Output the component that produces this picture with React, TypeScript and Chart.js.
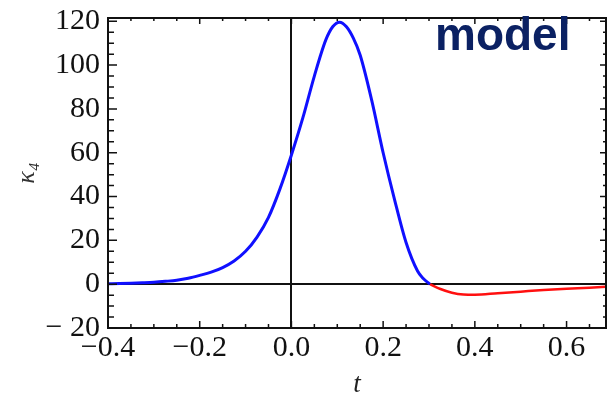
import React, { useEffect, useRef } from 'react';
import { Chart, registerables } from 'chart.js';

Chart.register(...registerables);

// Positive (blue) branch of kappa_4(t)
const tPositive = [-0.4, -0.375, -0.35, -0.325, -0.3, -0.275, -0.25, -0.225, -0.2, -0.175, -0.15, -0.125, -0.1, -0.075, -0.05, -0.025, 0, 0.025, 0.05, 0.075, 0.09, 0.105, 0.12, 0.135, 0.15, 0.175, 0.2, 0.225, 0.25, 0.275, 0.2875, 0.302];
const kappaPositive = [0.2, 0.3, 0.45, 0.65, 0.9, 1.3, 1.8, 2.7, 4.0, 5.5, 7.6, 10.6, 15.0, 21.5, 30.5, 43.5, 59, 76, 95, 111.5, 117.5, 119.6, 117.5, 112.3, 104.5, 84, 60, 38.5, 19, 6, 2.6, 0];

// Negative (red) branch
const tNegative = [0.302, 0.325, 0.35, 0.375, 0.4, 0.45, 0.5, 0.55, 0.6, 0.65, 0.69];
const kappaNegative = [0, -2.2, -3.9, -4.7, -4.8, -4.1, -3.4, -2.7, -2.1, -1.6, -1.1];

const xMajorTicks = [-0.4, -0.2, 0, 0.2, 0.4, 0.6];
const yMajorTicks = [-20, 0, 20, 40, 60, 80, 100, 120];

const X_MIN = -0.4;
const X_MAX = 0.686;
const Y_MIN = -20;
const Y_MAX = 121.5;

const isMajor = (v: number, majors: number[]) => majors.some((m) => Math.abs(m - v) < 1e-6);
const fmtX = (v: number) => {
  const s = Math.abs(v).toFixed(1);
  return v < -1e-9 ? '\u2212' + s : s;
};
const fmtY = (v: number) => {
  const s = Math.abs(Math.round(v)).toString();
  return v < -1e-9 ? '\u2212 ' + s : s;
};

const framePlugin = {
  id: 'frameTicks',
  afterDraw(chart: any) {
    const { ctx, chartArea } = chart;
    const { left, right, top, bottom } = chartArea;
    const xs = chart.scales.x;
    const ys = chart.scales.y;
    ctx.save();
    ctx.strokeStyle = '#111';
    ctx.lineWidth = 2;
    ctx.strokeRect(left, top, right - left, bottom - top);
    ctx.lineWidth = 1.5;
    ctx.beginPath();
    xs.ticks.forEach((t: any) => {
      const px = xs.getPixelForValue(t.value);
      if (px < left - 0.5 || px > right + 0.5) return;
      const major = isMajor(t.value, xMajorTicks);
      const lb = major ? 7 : 4;
      const lt = major ? 6 : 3;
      ctx.moveTo(px, bottom);
      ctx.lineTo(px, bottom - lb);
      ctx.moveTo(px, top);
      ctx.lineTo(px, top + lt);
    });
    ys.ticks.forEach((t: any) => {
      const py = ys.getPixelForValue(t.value);
      if (py < top - 0.5 || py > bottom + 0.5) return;
      const major = isMajor(t.value, yMajorTicks);
      const ll = major ? 9 : 6;
      const lr = major ? 6 : 3;
      ctx.moveTo(left, py);
      ctx.lineTo(left + ll, py);
      ctx.moveTo(right, py);
      ctx.lineTo(right - lr, py);
    });
    ctx.stroke();
    // "model" label
    ctx.fillStyle = '#0b2163';
    ctx.font = 'bold 46px "Liberation Sans", Arial, sans-serif';
    ctx.textAlign = 'left';
    ctx.textBaseline = 'alphabetic';
    ctx.fillText('model', 435, 50);
    ctx.restore();
  },
};

export default function App() {
  const canvasRef = useRef<HTMLCanvasElement | null>(null);

  useEffect(() => {
    document.body.style.margin = '0';
    const canvas = canvasRef.current;
    if (!canvas) return;
    const chart = new Chart(canvas, {
      type: 'line',
      data: {
        datasets: [
          {
            label: 'positive',
            data: tPositive.map((t, i) => ({ x: t, y: kappaPositive[i] })),
            borderColor: '#1010ff',
            borderWidth: 3,
            pointRadius: 0,
            cubicInterpolationMode: 'monotone',
            fill: false,
          },
          {
            label: 'negative',
            data: tNegative.map((t, i) => ({ x: t, y: kappaNegative[i] })),
            borderColor: '#ff1010',
            borderWidth: 2.5,
            pointRadius: 0,
            cubicInterpolationMode: 'monotone',
            fill: false,
          },
        ],
      },
      options: {
        animation: false,
        responsive: false,
        devicePixelRatio: 1,
        layout: { padding: { top: 18, right: 3, left: 0, bottom: 0 } },
        plugins: { legend: { display: false }, tooltip: { enabled: false } },
        scales: {
          x: {
            type: 'linear',
            min: X_MIN,
            max: X_MAX,
            afterFit: (s: any) => {
              s.height = 75;
              s.paddingLeft = 0;
              s.paddingRight = 0;
            },
            border: { display: false },
            grid: {
              drawTicks: false,
              lineWidth: 2,
              color: (c: any) => (c.tick && Math.abs(c.tick.value) < 1e-9 ? '#111' : 'rgba(0,0,0,0)'),
            },
            ticks: {
              stepSize: 0.05,
              includeBounds: false,
              autoSkip: false,
              maxRotation: 0,
              minRotation: 0,
              padding: 2,
              color: '#111',
              font: { family: '"Liberation Serif", "Times New Roman", serif', size: 30 },
              callback: (v: any) => (isMajor(Number(v), xMajorTicks) ? fmtX(Number(v)) : ''),
            },
            title: {
              display: true,
              text: 't',
              color: '#222',
              padding: { top: 0, bottom: 2 },
              font: { family: '"Liberation Serif", "Times New Roman", serif', size: 27, style: 'italic' },
            },
          },
          y: {
            type: 'linear',
            min: Y_MIN,
            max: Y_MAX,
            afterFit: (s: any) => {
              s.width = 108;
              s.paddingTop = 0;
              s.paddingBottom = 0;
            },
            border: { display: false },
            grid: {
              drawTicks: false,
              lineWidth: 2,
              color: (c: any) => (c.tick && Math.abs(c.tick.value) < 1e-9 ? '#111' : 'rgba(0,0,0,0)'),
            },
            ticks: {
              stepSize: 5,
              includeBounds: false,
              autoSkip: false,
              padding: 8,
              color: '#111',
              font: { family: '"Liberation Serif", "Times New Roman", serif', size: 30 },
              callback: (v: any) => (isMajor(Number(v), yMajorTicks) ? fmtY(Number(v)) : ''),
            },
            title: {
              display: true,
              text: '\u03BA\u2084',
              color: '#333',
              padding: { top: 12, bottom: 0 },
              font: { family: '"Liberation Serif", "Times New Roman", serif', size: 26, style: 'italic' },
            },
          },
        },
      },
      plugins: [framePlugin],
    } as any);
    return () => chart.destroy();
  }, []);

  return (
    <div style={{ position: 'fixed', left: 0, top: 0, width: 609, height: 403, background: '#fff' }}>
      <canvas ref={canvasRef} width={609} height={403} style={{ width: 609, height: 403, display: 'block' }} />
    </div>
  );
}
